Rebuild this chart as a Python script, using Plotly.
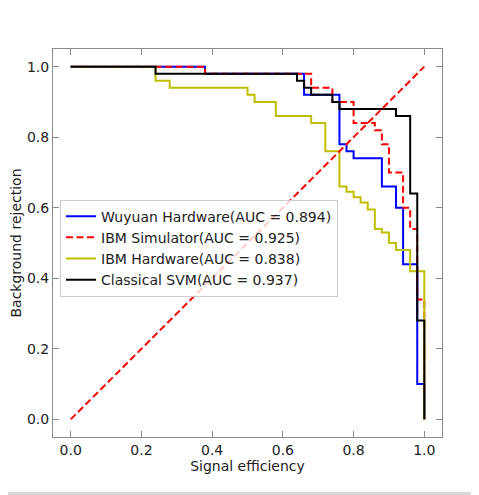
import plotly.graph_objects as go

# ROC data (signal efficiency, background rejection) as step corner points
series_names = ["Wuyuan Hardware(AUC = 0.894)", "IBM Simulator(AUC = 0.925)",
                "IBM Hardware(AUC = 0.838)", "Classical SVM(AUC = 0.937)"]

wuyuan_x = [0, 0.38, 0.66, 0.76, 0.78, 0.80, 0.88, 0.92, 0.94, 0.98, 1.0]
wuyuan_y = [1, 0.98, 0.92, 0.78, 0.76, 0.74, 0.66, 0.60, 0.44, 0.10, 0.0]

ibmsim_x = [0, 0.38, 0.68, 0.74, 0.80, 0.86, 0.88, 0.90, 0.94, 0.96, 0.98, 1.0]
ibmsim_y = [1, 0.98, 0.94, 0.90, 0.84, 0.82, 0.78, 0.70, 0.60, 0.54, 0.34, 0.0]

ibmhw_x = [0, 0.24, 0.28, 0.50, 0.52, 0.58, 0.68, 0.72, 0.76, 0.78, 0.80, 0.82, 0.84,
           0.86, 0.88, 0.90, 0.92, 0.96, 1.0]
ibmhw_y = [1, 0.96, 0.94, 0.92, 0.90, 0.86, 0.84, 0.76, 0.66, 0.645, 0.63, 0.615, 0.595,
           0.54, 0.53, 0.50, 0.48, 0.42, 0.0]

svm_x = [0, 0.24, 0.64, 0.66, 0.68, 0.74, 0.76, 0.92, 0.96, 0.98, 1.0]
svm_y = [1, 0.98, 0.96, 0.94, 0.92, 0.90, 0.88, 0.86, 0.64, 0.28, 0.0]

diag = [0, 1]

tick_vals = [0.0, 0.2, 0.4, 0.6, 0.8, 1.0]
tick_text = ["0.0", "0.2", "0.4", "0.6", "0.8", "1.0"]

FONT = "DejaVu Sans"
GREY = "#8a8a8a"

fig = go.Figure()
styles = [
    (wuyuan_x, wuyuan_y, "#0000ff", "solid"),
    (ibmsim_x, ibmsim_y, "#ff0000", "7px,3.5px"),
    (ibmhw_x, ibmhw_y, "#bfbf00", "solid"),
    (svm_x, svm_y, "#000000", "solid"),
]
for name, (xs, ys, col, dash) in zip(series_names, styles):
    fig.add_trace(go.Scatter(x=xs, y=ys, mode="lines", name=name,
                             line=dict(color=col, width=2, dash=dash, shape="hv")))

fig.add_trace(go.Scatter(x=diag, y=diag, mode="lines", showlegend=False,
                         line=dict(color="#ff0000", width=2, dash="7px,3.5px")))

axis_common = dict(
    range=[-0.05, 1.05], showgrid=False, zeroline=False, showline=True,
    linecolor=GREY, linewidth=1, mirror="ticks", ticks="inside", ticklen=6,
    tickcolor=GREY, tickwidth=1, tickvals=tick_vals, ticktext=tick_text,
    tickfont=dict(family=FONT, size=14, color="#222"), automargin=False,
)

fig.update_layout(
    width=471, height=487,
    margin=dict(l=45, r=37, t=41, b=58, autoexpand=False),
    paper_bgcolor="white", plot_bgcolor="white",
    font=dict(family=FONT, size=14, color="#222"),
    xaxis=dict(**axis_common, title=dict(text="Signal efficiency",
                                          font=dict(family=FONT, size=14, color="#222"),
                                          standoff=4)),
    yaxis=dict(**axis_common, title=dict(text="Background rejection",
                                          font=dict(family=FONT, size=14, color="#222"),
                                          standoff=6)),
    legend=dict(x=0.018, y=0.612, xanchor="left", yanchor="top",
                bgcolor="rgba(255,255,255,0.8)", bordercolor="#cccccc", borderwidth=1,
                font=dict(family=FONT, size=14, color="#222"), tracegroupgap=0),
    showlegend=True,
)

fig.add_shape(type="rect", xref="paper", yref="paper",
              x0=-45 / 389, x1=426 / 389, y0=-0.1415, y1=-0.16,
              fillcolor="#d9d9d9", line=dict(width=0), layer="below")

fig.write_html("out.html")
